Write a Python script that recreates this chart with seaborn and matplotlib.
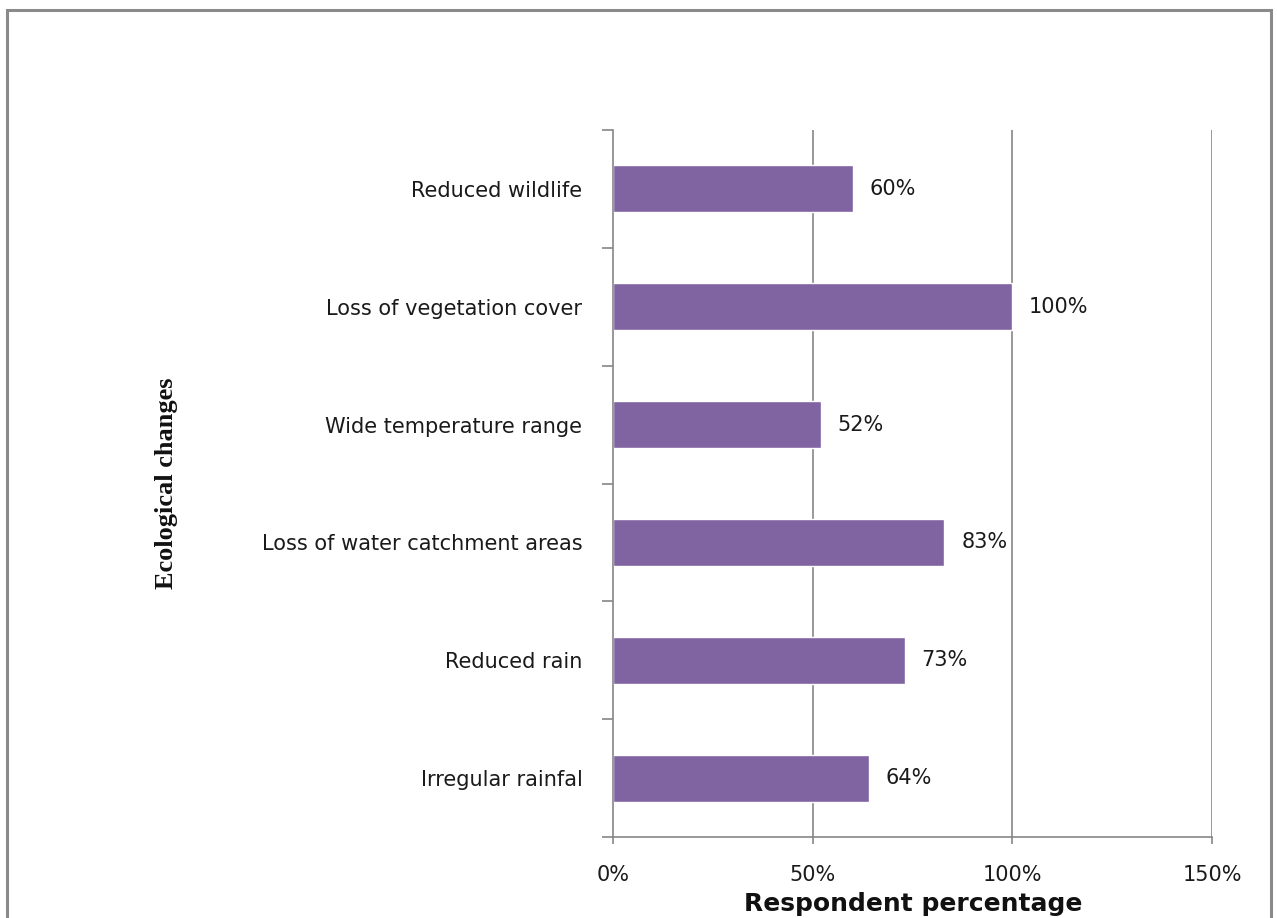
import matplotlib
matplotlib.use("Agg")
import matplotlib.pyplot as plt
from matplotlib.patches import Rectangle
from matplotlib.ticker import FixedLocator, FuncFormatter
import seaborn as sns
import pandas as pd

categories = [
    "Reduced wildlife",
    "Loss of vegetation cover",
    "Wide temperature range",
    "Loss of water catchment areas",
    "Reduced rain",
    "Irregular rainfal",
]
percentages = [60, 100, 52, 83, 73, 64]
x_ticks = [0, 50, 100, 150]

df = pd.DataFrame({"change": categories, "pct": percentages})

sns.set_theme(style="white")
plt.rcParams["font.family"] = ["DejaVu Sans"]

W, H = 1277, 918
fig = plt.figure(figsize=(W / 100, H / 100), dpi=100)
fig.patch.set_facecolor("white")

ax = fig.add_axes([613 / W, 1 - 837 / H, (1212 - 613) / W, (837 - 130) / H])

sns.barplot(data=df, x="pct", y="change", order=categories, orient="h",
            color="#8064A2", saturation=1, width=0.4, ax=ax)

ax.set_xlim(0, 150)
ax.set_ylim(len(categories) - 0.5, -0.5)

grid_col = "#868686"
text_col = "#1a1a1a"
ax.xaxis.set_major_locator(FixedLocator(x_ticks))
ax.xaxis.set_major_formatter(FuncFormatter(lambda v, p: f"{v:.0f}%"))
for v in x_ticks[1:]:
    ax.axvline(v, color=grid_col, lw=1.2, zorder=0)

for side in ["top", "right"]:
    ax.spines[side].set_visible(False)
for side in ["left", "bottom"]:
    ax.spines[side].set_color(grid_col)
    ax.spines[side].set_linewidth(1.2)

ax.tick_params(axis="x", direction="out", length=5, width=1.2, color=grid_col,
               pad=15, labelsize=15, labelcolor=text_col, bottom=True)
ax.tick_params(axis="y", which="major", length=0, pad=22, labelsize=15,
               labelcolor=text_col)
ax.yaxis.set_minor_locator(FixedLocator([i - 0.5 for i in range(len(categories) + 1)]))
ax.tick_params(axis="y", which="minor", direction="out", length=8, width=1.2,
               color=grid_col, left=True)

# value labels beside each bar
for i, v in enumerate(percentages):
    ax.text(v + 4.2, i, f"{v}%", va="center", ha="left", fontsize=15,
            color=text_col)

ax.set_xlabel("")
ax.set_ylabel("")
fig.text(913 / W, 1 - 911 / H, "Respondent percentage", ha="center",
         va="baseline", fontsize=18, fontweight="bold", color="#111111")
fig.text(167 / W, 1 - 483 / H, "Ecological changes", rotation=90,
         ha="center", va="center", fontsize=19, fontweight="bold",
         family=["Liberation Serif"], color="#111111")

# outer frame
fig.patches.append(Rectangle((7 / W, -0.05), (1271 - 7) / W, 1.05 - 10 / H,
                             transform=fig.transFigure, fill=False,
                             edgecolor="#8a8a8a", linewidth=2.2))

fig.savefig("out.png", dpi=100, facecolor="white")
